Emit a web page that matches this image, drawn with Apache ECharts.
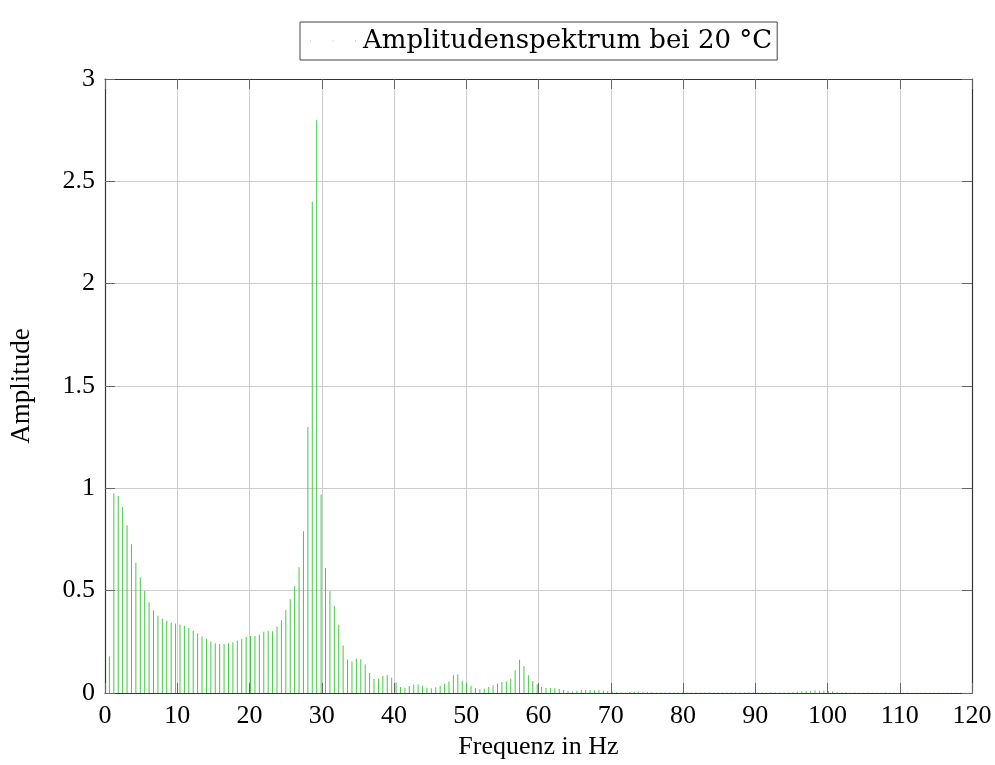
<!DOCTYPE html>
<html>
<head>
<meta charset="utf-8">
<script src="https://cdn.jsdelivr.net/npm/echarts@6/dist/echarts.min.js"></script>
<style>
html,body{margin:0;padding:0;background:#fff;}
#c{width:995px;height:765px;}
</style>
</head>
<body>
<div id="c"></div>
<script>
// Frequency resolution of the spectrum (Hz per bin) and bin amplitudes (bins 1..196)
const freqStep = 0.6104;
const amplitudes = [
  0.178, 0.975, 0.962, 0.907, 0.820, 0.727, 0.637, 0.564, 0.498, 0.443,
  0.404, 0.377, 0.363, 0.353, 0.345, 0.340, 0.335, 0.328, 0.317, 0.304,
  0.291, 0.276, 0.265, 0.252, 0.243, 0.240, 0.240, 0.243, 0.248, 0.255,
  0.265, 0.275, 0.279, 0.279, 0.286, 0.299, 0.304, 0.302, 0.325, 0.356,
  0.405, 0.458, 0.521, 0.614, 0.790, 1.300, 2.400, 2.800, 0.970, 0.611,
  0.497, 0.425, 0.333, 0.232, 0.164, 0.154, 0.167, 0.165, 0.139, 0.098,
  0.069, 0.070, 0.083, 0.088, 0.074, 0.051, 0.029, 0.026, 0.034, 0.041,
  0.041, 0.036, 0.026, 0.023, 0.028, 0.036, 0.046, 0.056, 0.087, 0.090,
  0.060, 0.051, 0.036, 0.025, 0.020, 0.021, 0.029, 0.038, 0.046, 0.054,
  0.056, 0.070, 0.111, 0.163, 0.132, 0.087, 0.059, 0.041, 0.031, 0.025,
  0.025, 0.023, 0.020, 0.015, 0.010, 0.007, 0.011, 0.015, 0.015, 0.015,
  0.013, 0.013, 0.011, 0.010, 0.007, 0.004, 0.003, 0.003, 0.005, 0.006,
  0.006, 0.006, 0.005, 0.004, 0.003, 0.003, 0.002, 0.002, 0.002, 0.002,
  0.002, 0.002, 0.002, 0.002, 0.002, 0.002, 0.002, 0.003, 0.003, 0.003,
  0.003, 0.003, 0.002, 0.002, 0.002, 0.002, 0.002, 0.002, 0.003, 0.003,
  0.003, 0.003, 0.002, 0.002, 0.003, 0.004, 0.006, 0.008, 0.010, 0.011,
  0.012, 0.011, 0.011, 0.010, 0.008, 0.005, 0.002, 0.002, 0.001, 0.002,
  0.001, 0.001, 0.002, 0.001, 0.001, 0.001, 0.002, 0.001, 0.001, 0.001,
  0.001, 0.001, 0.001, 0.001, 0.001, 0.001, 0.001, 0.001, 0.001, 0.001,
  0.001, 0.001, 0.001, 0.001, 0.001, 0.001
];
const seriesName = 'Amplitudenspektrum bei 20 °C';
const xTitle = 'Frequenz in Hz';
const yTitle = 'Amplitude';
const xRange = [0, 120, 10];
const yRange = [0, 3, 0.5];

const FONT = 'Liberation Serif';
const data = amplitudes.map((a, i) => [(i + 1) * freqStep, a]);

const chart = echarts.init(document.getElementById('c'), null, {renderer: 'canvas'});
const axisLineStyle = {color: '#333', width: 1.2};
const tickStyle = {color: '#666', width: 1};
chart.setOption({
  animation: false,
  backgroundColor: '#fff',
  grid: {left: 105, right: 23, top: 79, bottom: 72, containLabel: false, outerBoundsMode: 'none'},
  legend: {
    left: 300, top: 22,
    itemWidth: 46, itemHeight: 4, itemGap: 0,
    padding: [6, 5, 6, 10],
    borderColor: '#444', borderWidth: 1,
    icon: 'path://M0,0h1v1h-1z M22,0h1v1h-1z M44,0h1v1h-1z',
    textStyle: {fontFamily: 'DejaVu Serif', fontSize: 26, color: '#000', padding: [0, 0, 0, 2]},
    data: [{name: seriesName, itemStyle: {color: '#8fd98f'}}]
  },
  xAxis: [{
    type: 'value', min: xRange[0], max: xRange[1], interval: xRange[2],
    name: xTitle, nameLocation: 'middle', nameGap: 41,
    nameTextStyle: {fontFamily: FONT, fontSize: 26, color: '#000'},
    axisLine: {show: true, onZero: false, lineStyle: axisLineStyle},
    axisTick: {show: true, inside: true, length: 10, lineStyle: tickStyle},
    axisLabel: {fontFamily: FONT, fontSize: 26, color: '#000', margin: 10},
    splitLine: {show: true, lineStyle: {color: '#cccccc', width: 1}}
  }, {
    type: 'value', position: 'top', min: xRange[0], max: xRange[1], interval: xRange[2],
    axisLine: {show: true, onZero: false, lineStyle: axisLineStyle},
    axisTick: {show: true, inside: true, length: 10, lineStyle: tickStyle},
    axisLabel: {show: false}, splitLine: {show: false}
  }],
  yAxis: [{
    type: 'value', min: yRange[0], max: yRange[1], interval: yRange[2],
    name: yTitle, nameLocation: 'middle', nameGap: 70, nameRotate: 90,
    nameTextStyle: {fontFamily: FONT, fontSize: 27, color: '#000'},
    axisLine: {show: true, onZero: false, lineStyle: axisLineStyle},
    axisTick: {show: true, inside: true, length: 10, lineStyle: tickStyle},
    axisLabel: {fontFamily: FONT, fontSize: 26, color: '#000', margin: 10},
    splitLine: {show: true, lineStyle: {color: '#cccccc', width: 1}}
  }, {
    type: 'value', position: 'right', min: yRange[0], max: yRange[1], interval: yRange[2],
    axisLine: {show: true, onZero: false, lineStyle: axisLineStyle},
    axisTick: {show: true, inside: true, length: 10, lineStyle: tickStyle},
    axisLabel: {show: false}, splitLine: {show: false}
  }],
  series: [{
    name: seriesName,
    type: 'bar',
    xAxisIndex: 0, yAxisIndex: 0,
    barWidth: 1,
    itemStyle: {color: '#45c945'},
    data: data,
    z: 3
  }]
});
</script>
</body>
</html>
